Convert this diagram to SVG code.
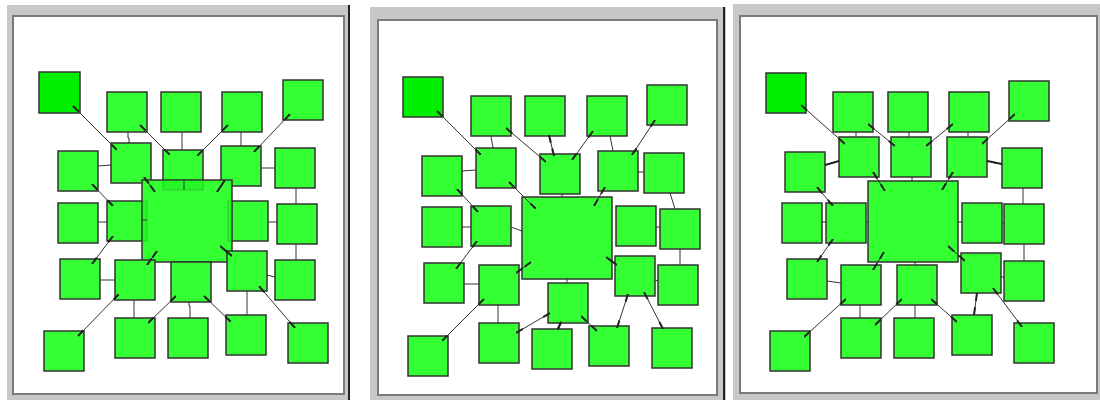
<svg xmlns="http://www.w3.org/2000/svg" width="1100" height="400" viewBox="0 0 1100 400">
<style>
.fo{fill:#c8c8c8}
.fi{fill:#ffffff;stroke:#7a7a7a;stroke-width:2}
.fb{stroke:#222;stroke-width:2}
.n{fill:#33ff33;stroke:#333;stroke-width:1.5}
.d{fill:#00ee00;stroke:#333;stroke-width:1.5}
.g{fill:#00dd00;fill-opacity:0.25;stroke:#333;stroke-opacity:0.25;stroke-width:1}
.e{stroke:#333;stroke-width:1;fill:none}
.a{marker-start:url(#m);marker-end:url(#m)}
</style>
<defs>
<marker id="m" viewBox="0 0 8 3" refX="8" refY="1.5" markerWidth="8" markerHeight="3" markerUnits="userSpaceOnUse" orient="auto-start-reverse">
<path d="M0,0.5 L8,0.5 L8,2.5 L0,2.5 z" fill="#222"/>
</marker>
</defs>
<rect width="1100" height="400" fill="#ffffff"/>
<g id="frames">
<rect class="fo" x="7" y="5" width="343" height="395"/>
<rect class="fi" x="13" y="16" width="331" height="378"/>
<line class="fb" x1="349" y1="5" x2="349" y2="400"/>
<rect class="fo" x="370" y="7" width="356" height="393"/>
<rect class="fi" x="378" y="20" width="339" height="375"/>
<line class="fb" x1="724" y1="7" x2="724" y2="400"/>
<rect class="fo" x="733" y="4" width="367" height="396"/>
<rect class="fi" x="740" y="16" width="357" height="377"/>
</g>
<g id="panel1">
<rect id="p1-dark" class="d" x="39" y="72" width="41" height="41"/>
<rect id="p1-a" class="n" x="107" y="92" width="40" height="40"/>
<rect id="p1-b" class="n" x="161" y="92" width="40" height="40"/>
<rect id="p1-c" class="n" x="222" y="92" width="40" height="40"/>
<rect id="p1-d" class="n" x="283" y="80" width="40" height="40"/>
<rect id="p1-e" class="n" x="111" y="143" width="40" height="40"/>
<rect id="p1-f" class="n" x="163" y="150" width="40" height="40"/>
<rect id="p1-g" class="n" x="221" y="146" width="40" height="40"/>
<rect id="p1-h" class="n" x="58" y="151" width="40" height="40"/>
<rect id="p1-i" class="n" x="275" y="148" width="40" height="40"/>
<rect id="p1-j" class="n" x="58" y="203" width="40" height="40"/>
<rect id="p1-k" class="n" x="107" y="201" width="40" height="40"/>
<rect id="p1-l" class="n" x="228" y="201" width="40" height="40"/>
<rect id="p1-m" class="n" x="277" y="204" width="40" height="40"/>
<g id="p1-big">
<rect class="n" x="142" y="180" width="90" height="82"/>
<rect class="g" x="163" y="180" width="40" height="10"/>
<rect class="g" x="142" y="201" width="5" height="40"/>
<rect class="g" x="228" y="201" width="4" height="40"/>
</g>
<rect id="p1-n" class="n" x="60" y="259" width="40" height="40"/>
<rect id="p1-o" class="n" x="115" y="260" width="40" height="40"/>
<rect id="p1-p" class="n" x="171" y="262" width="40" height="40"/>
<rect id="p1-q" class="n" x="227" y="251" width="40" height="40"/>
<rect id="p1-r" class="n" x="275" y="260" width="40" height="40"/>
<rect id="p1-s" class="n" x="44" y="331" width="40" height="40"/>
<rect id="p1-t" class="n" x="115" y="318" width="40" height="40"/>
<rect id="p1-u" class="n" x="168" y="318" width="40" height="40"/>
<rect id="p1-v" class="n" x="226" y="315" width="40" height="40"/>
<rect id="p1-w" class="n" x="288" y="323" width="40" height="40"/>
</g>
<g id="panel2">
<rect id="p2-dark" class="d" x="403" y="77" width="40" height="40"/>
<rect id="p2-a" class="n" x="471" y="96" width="40" height="40"/>
<rect id="p2-b" class="n" x="525" y="96" width="40" height="40"/>
<rect id="p2-c" class="n" x="587" y="96" width="40" height="40"/>
<rect id="p2-d" class="n" x="647" y="85" width="40" height="40"/>
<rect id="p2-e" class="n" x="476" y="148" width="40" height="40"/>
<rect id="p2-f" class="n" x="540" y="154" width="40" height="40"/>
<rect id="p2-g" class="n" x="598" y="151" width="40" height="40"/>
<rect id="p2-h" class="n" x="422" y="156" width="40" height="40"/>
<rect id="p2-i" class="n" x="644" y="153" width="40" height="40"/>
<rect id="p2-big" class="n" x="522" y="197" width="90" height="82"/>
<rect id="p2-j" class="n" x="422" y="207" width="40" height="40"/>
<rect id="p2-k" class="n" x="471" y="206" width="40" height="40"/>
<rect id="p2-l" class="n" x="616" y="206" width="40" height="40"/>
<rect id="p2-m" class="n" x="660" y="209" width="40" height="40"/>
<rect id="p2-n" class="n" x="424" y="263" width="40" height="40"/>
<rect id="p2-o" class="n" x="479" y="265" width="40" height="40"/>
<rect id="p2-p" class="n" x="548" y="283" width="40" height="40"/>
<rect id="p2-q" class="n" x="615" y="256" width="40" height="40"/>
<rect id="p2-r" class="n" x="658" y="265" width="40" height="40"/>
<rect id="p2-s" class="n" x="408" y="336" width="40" height="40"/>
<rect id="p2-t" class="n" x="479" y="323" width="40" height="40"/>
<rect id="p2-u" class="n" x="532" y="329" width="40" height="40"/>
<rect id="p2-v" class="n" x="589" y="326" width="40" height="40"/>
<rect id="p2-w" class="n" x="652" y="328" width="40" height="40"/>
</g>
<g id="panel3">
<rect id="p3-dark" class="d" x="766" y="73" width="40" height="40"/>
<rect id="p3-a" class="n" x="833" y="92" width="40" height="40"/>
<rect id="p3-b" class="n" x="888" y="92" width="40" height="40"/>
<rect id="p3-c" class="n" x="949" y="92" width="40" height="40"/>
<rect id="p3-d" class="n" x="1009" y="81" width="40" height="40"/>
<rect id="p3-e" class="n" x="839" y="137" width="40" height="40"/>
<rect id="p3-f" class="n" x="891" y="137" width="40" height="40"/>
<rect id="p3-g" class="n" x="947" y="137" width="40" height="40"/>
<rect id="p3-h" class="n" x="785" y="152" width="40" height="40"/>
<rect id="p3-i" class="n" x="1002" y="148" width="40" height="40"/>
<rect id="p3-big" class="n" x="868" y="181" width="90" height="81"/>
<rect id="p3-j" class="n" x="782" y="203" width="40" height="40"/>
<rect id="p3-k" class="n" x="826" y="203" width="40" height="40"/>
<rect id="p3-l" class="n" x="962" y="203" width="40" height="40"/>
<rect id="p3-m" class="n" x="1004" y="204" width="40" height="40"/>
<rect id="p3-n" class="n" x="787" y="259" width="40" height="40"/>
<rect id="p3-o" class="n" x="841" y="265" width="40" height="40"/>
<rect id="p3-p" class="n" x="897" y="265" width="40" height="40"/>
<rect id="p3-q" class="n" x="961" y="253" width="40" height="40"/>
<rect id="p3-r" class="n" x="1004" y="261" width="40" height="40"/>
<rect id="p3-s" class="n" x="770" y="331" width="40" height="40"/>
<rect id="p3-t" class="n" x="841" y="318" width="40" height="40"/>
<rect id="p3-u" class="n" x="894" y="318" width="40" height="40"/>
<rect id="p3-v" class="n" x="952" y="315" width="40" height="40"/>
<rect id="p3-w" class="n" x="1014" y="323" width="40" height="40"/>
</g>
<g id="connectors" class="e">
<line class="a" x1="73" y1="106" x2="117" y2="150"/>
<polyline points="128,132 128,138 129,138 129,143"/>
<line class="a" x1="140" y1="125" x2="170" y2="155"/>
<line x1="182" y1="132" x2="182" y2="150"/>
<line class="a" x1="228" y1="125" x2="197" y2="156"/>
<line x1="241" y1="132" x2="241" y2="146"/>
<line class="a" x1="290" y1="114" x2="254" y2="152"/>
<line x1="98" y1="166" x2="111" y2="165"/>
<line x1="261" y1="168" x2="275" y2="168"/>
<line class="a" x1="144" y1="177" x2="155" y2="192"/>
<line x1="184" y1="180" x2="184" y2="190"/>
<line class="a" x1="225" y1="180" x2="217" y2="192"/>
<line class="a" x1="92" y1="184" x2="113" y2="206"/>
<line x1="296" y1="188" x2="296" y2="204"/>
<line x1="98" y1="222" x2="107" y2="222"/>
<line x1="142" y1="220" x2="147" y2="220"/>
<line x1="268" y1="222" x2="277" y2="222"/>
<line class="a" x1="113" y1="236" x2="92" y2="264"/>
<line class="a" x1="157" y1="251" x2="147" y2="265"/>
<line class="a" x1="220" y1="246" x2="232" y2="256"/>
<line x1="296" y1="244" x2="296" y2="260"/>
<line x1="100" y1="280" x2="115" y2="280"/>
<line x1="267" y1="275" x2="275" y2="277"/>
<line class="a" x1="119" y1="294" x2="78" y2="336"/>
<line x1="134" y1="300" x2="134" y2="318"/>
<line class="a" x1="176" y1="296" x2="148" y2="323"/>
<polyline points="189,302 189,306 190,306 190,318"/>
<line class="a" x1="204" y1="296" x2="231" y2="322"/>
<line x1="247" y1="291" x2="247" y2="315"/>
<line class="a" x1="259" y1="286" x2="295" y2="328"/>

<line class="a" x1="437" y1="111" x2="481" y2="155"/>
<line x1="491" y1="136" x2="493" y2="148"/>
<line class="a" x1="506" y1="128" x2="546" y2="162"/>
<line class="a" x1="549" y1="135" x2="554" y2="156"/>
<line class="a" x1="593" y1="131" x2="572" y2="160"/>
<line x1="610" y1="136" x2="613" y2="151"/>
<line class="a" x1="655" y1="120" x2="632" y2="155"/>
<line x1="462" y1="171" x2="476" y2="170"/>
<line x1="638" y1="172" x2="644" y2="172"/>
<line class="a" x1="509" y1="182" x2="536" y2="209"/>
<line x1="562" y1="194" x2="562" y2="197"/>
<line class="a" x1="605" y1="187" x2="594" y2="206"/>
<line class="a" x1="457" y1="189" x2="478" y2="212"/>
<line x1="670" y1="193" x2="675" y2="209"/>
<line x1="462" y1="227" x2="471" y2="227"/>
<line x1="511" y1="227" x2="522" y2="231"/>
<line x1="656" y1="227" x2="660" y2="227"/>
<line class="a" x1="477" y1="241" x2="456" y2="269"/>
<line class="a" x1="531" y1="262" x2="516" y2="273"/>
<line class="a" x1="606" y1="257" x2="617" y2="265"/>
<line x1="567" y1="279" x2="567" y2="283"/>
<line x1="680" y1="249" x2="680" y2="265"/>
<line x1="464" y1="284" x2="479" y2="284"/>
<line x1="655" y1="280" x2="658" y2="281"/>
<line class="a" x1="484" y1="299" x2="442" y2="341"/>
<line x1="498" y1="305" x2="498" y2="323"/>
<line class="a" x1="550" y1="313" x2="516" y2="333"/>
<line class="a" x1="561" y1="322" x2="558" y2="329"/>
<line class="a" x1="581" y1="316" x2="597" y2="331"/>
<line class="a" x1="628" y1="294" x2="617" y2="328"/>
<line class="a" x1="644" y1="292" x2="663" y2="329"/>

<line class="a" x1="801" y1="105" x2="845" y2="144"/>
<line x1="856" y1="132" x2="856" y2="137"/>
<line class="a" x1="868" y1="124" x2="895" y2="146"/>
<line x1="909" y1="132" x2="909" y2="137"/>
<line class="a" x1="953" y1="124" x2="926" y2="146"/>
<line x1="968" y1="132" x2="968" y2="137"/>
<line class="a" x1="1015" y1="114" x2="982" y2="144"/>
<line class="a" x1="825" y1="165" x2="839" y2="161"/>
<line class="a" x1="987" y1="161" x2="1002" y2="164"/>
<line class="a" x1="873" y1="172" x2="885" y2="191"/>
<line x1="912" y1="177" x2="912" y2="181"/>
<line class="a" x1="953" y1="172" x2="942" y2="190"/>
<line class="a" x1="817" y1="187" x2="833" y2="206"/>
<line x1="1023" y1="188" x2="1023" y2="204"/>
<line x1="822" y1="222" x2="826" y2="222"/>
<line x1="866" y1="222" x2="868" y2="222"/>
<line x1="958" y1="222" x2="962" y2="222"/>
<line x1="1002" y1="223" x2="1004" y2="223"/>
<line class="a" x1="833" y1="239" x2="817" y2="262"/>
<line class="a" x1="884" y1="252" x2="873" y2="270"/>
<line x1="915" y1="262" x2="915" y2="265"/>
<line class="a" x1="948" y1="246" x2="965" y2="261"/>
<line x1="1024" y1="244" x2="1024" y2="261"/>
<line x1="827" y1="281" x2="841" y2="283"/>
<line x1="1001" y1="277" x2="1004" y2="277"/>
<line class="a" x1="846" y1="299" x2="804" y2="337"/>
<line x1="860" y1="305" x2="860" y2="318"/>
<line class="a" x1="902" y1="299" x2="875" y2="325"/>
<line x1="915" y1="305" x2="915" y2="318"/>
<line class="a" x1="931" y1="299" x2="957" y2="322"/>
<line class="a" x1="977" y1="293" x2="974" y2="315"/>
<line class="a" x1="993" y1="288" x2="1022" y2="327"/>
</g>
</svg>
